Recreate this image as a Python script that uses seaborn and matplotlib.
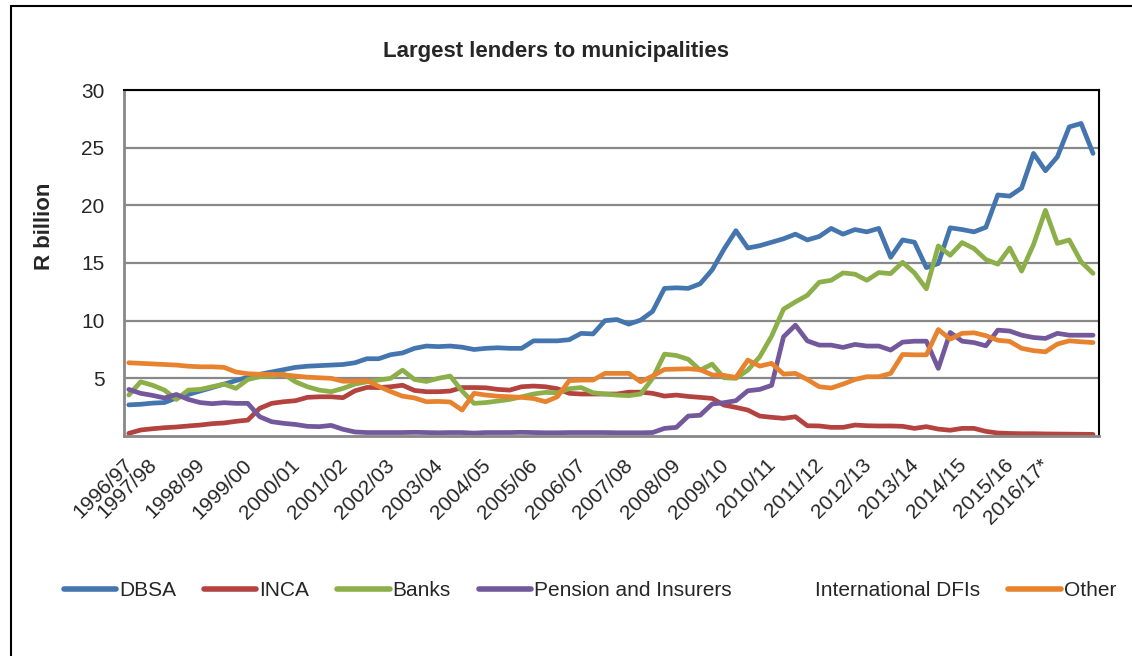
import numpy as np
import pandas as pd
import seaborn as sns
import matplotlib.pyplot as plt
import matplotlib.transforms as mtransforms
from matplotlib.lines import Line2D
from matplotlib.patches import Rectangle

# fiscal-year labels and the quarter index where each one sits
year_labels = ['1996/97', '1997/98', '1998/99', '1999/00', '2000/01', '2001/02', '2002/03',
               '2003/04', '2004/05', '2005/06', '2006/07', '2007/08', '2008/09', '2009/10',
               '2010/11', '2011/12', '2012/13', '2013/14', '2014/15', '2015/16', '2016/17*']
label_pos = [0, 2, 6, 10, 14, 18, 22, 26, 30, 34, 38, 42, 46, 50, 54, 58, 62, 66, 70, 74, 77]

# R billion, quarterly
dbsa = [2.7, 2.75, 2.85, 2.9, 3.3, 3.6, 3.9, 4.2, 4.5, 4.8, 5.1, 5.35, 5.55, 5.75, 5.95, 6.05, 6.1, 6.15, 6.2, 6.35, 6.7, 6.7, 7.05, 7.2, 7.6,
        7.8, 7.75, 7.8, 7.7, 7.5, 7.6, 7.65, 7.6, 7.6, 8.25, 8.25, 8.25, 8.35, 8.9, 8.85, 10.0, 10.1, 9.7, 10.05, 10.8, 12.8, 12.85, 12.8, 13.2,
        14.4, 16.2, 17.8, 16.3, 16.5, 16.8, 17.1, 17.5, 17.0, 17.3, 18.0, 17.5, 17.9, 17.7, 18.0, 15.5, 17.0, 16.8, 14.6, 14.95, 18.05, 17.9, 17.7,
        18.1, 20.9, 20.8, 21.5, 24.5, 23.0, 24.2, 26.8, 27.1, 24.5]
inca = [0.23, 0.52, 0.63, 0.72, 0.78, 0.87, 0.95, 1.07, 1.13, 1.27, 1.38, 2.4, 2.83, 2.97, 3.06, 3.35, 3.4, 3.4, 3.32, 3.92, 4.21, 4.2, 4.27, 4.4, 3.95,
        3.84, 3.84, 3.9, 4.2, 4.2, 4.18, 4.04, 3.98, 4.27, 4.33, 4.27, 4.1, 3.7, 3.64, 3.64, 3.64, 3.64, 3.8, 3.8, 3.7, 3.46, 3.55, 3.43, 3.35,
        3.26, 2.68, 2.48, 2.25, 1.73, 1.62, 1.53, 1.67, 0.89, 0.87, 0.75, 0.75, 0.95, 0.89, 0.87, 0.87, 0.84, 0.66, 0.81, 0.6, 0.5, 0.66, 0.66,
        0.4, 0.26, 0.22, 0.2, 0.2, 0.18, 0.17, 0.16, 0.15, 0.14]
banks = [3.55, 4.7, 4.4, 3.98, 3.17, 3.98, 4.04, 4.27, 4.5, 4.13, 4.9, 5.14, 5.2, 5.37, 4.7, 4.27, 3.98, 3.84, 4.13, 4.5, 4.7, 4.85, 5.0, 5.71, 4.9,
         4.73, 5.0, 5.2, 3.9, 2.83, 2.9, 3.03, 3.17, 3.4, 3.64, 3.78, 3.75, 4.1, 4.2, 3.75, 3.64, 3.55, 3.5, 3.64, 5.0, 7.1, 6.98, 6.65, 5.71,
         6.23, 5.05, 5.0, 5.71, 6.87, 8.66, 11.0, 11.63, 12.2, 13.33, 13.5, 14.14, 14.03, 13.5, 14.17, 14.08, 15.06, 14.14, 12.76, 16.48, 15.67, 16.77, 16.25,
         15.3, 14.9, 16.3, 14.3, 16.6, 19.57, 16.7, 17.0, 15.1, 14.1]
pension = [4.04, 3.7, 3.52, 3.3, 3.6, 3.17, 2.9, 2.8, 2.89, 2.83, 2.83, 1.67, 1.24, 1.1, 1.0, 0.84, 0.81, 0.92, 0.58, 0.35, 0.3, 0.3, 0.3, 0.3, 0.32,
           0.3, 0.28, 0.3, 0.3, 0.25, 0.3, 0.3, 0.3, 0.32, 0.3, 0.28, 0.28, 0.3, 0.3, 0.3, 0.3, 0.28, 0.28, 0.28, 0.3, 0.66, 0.75, 1.73, 1.8,
           2.77, 2.89, 3.06, 3.92, 4.04, 4.39, 8.6, 9.61, 8.25, 7.88, 7.88, 7.68, 7.94, 7.8, 7.8, 7.45, 8.14, 8.22, 8.22, 5.86, 8.98, 8.22, 8.1,
           7.82, 9.18, 9.1, 8.74, 8.54, 8.46, 8.9, 8.74, 8.74, 8.74]
other = [6.35, 6.3, 6.25, 6.2, 6.15, 6.05, 6.0, 6.0, 5.95, 5.55, 5.4, 5.35, 5.35, 5.3, 5.2, 5.1, 5.05, 5.0, 4.75, 4.75, 4.8, 4.3, 3.85, 3.45, 3.3,
         2.97, 3.0, 2.95, 2.25, 3.7, 3.55, 3.45, 3.4, 3.35, 3.25, 2.97, 3.4, 4.8, 4.85, 4.85, 5.43, 5.43, 5.43, 4.7, 5.2, 5.77, 5.8, 5.83, 5.75,
         5.3, 5.25, 5.08, 6.58, 6.06, 6.3, 5.37, 5.43, 4.9, 4.27, 4.16, 4.5, 4.9, 5.14, 5.14, 5.43, 7.07, 7.04, 7.04, 9.23, 8.4, 8.9, 8.95,
         8.7, 8.3, 8.2, 7.6, 7.4, 7.3, 7.97, 8.25, 8.17, 8.1]

series_names = ['DBSA', 'INCA', 'Banks', 'Pension and Insurers', 'International DFIs', 'Other']
colors = ['#4575AF', '#B4433F', '#8CAF49', '#73599B', '#4BACC6', '#E7832F']

n = len(dbsa)
frames = []
for name, vals in [('DBSA', dbsa), ('INCA', inca), ('Banks', banks),
                   ('Pension and Insurers', pension), ('Other', other)]:
    frames.append(pd.DataFrame({'quarter': np.arange(n), 'value': vals, 'lender': name}))
df = pd.concat(frames, ignore_index=True)
drawn = ['DBSA', 'INCA', 'Banks', 'Pension and Insurers', 'Other']
palette = dict(zip(series_names, colors))

sns.set_style('white')
plt.rcParams['font.family'] = ['Liberation Sans', 'DejaVu Sans']

fig = plt.figure(figsize=(11.32, 6.56), dpi=100)
ax = fig.add_axes([124 / 1132, 1 - 436 / 656, 975 / 1132, 346 / 656])

sns.lineplot(data=df, x='quarter', y='value', hue='lender', hue_order=drawn,
             palette=palette, linewidth=3.4, ax=ax, legend=False, sort=False)
for ln in ax.get_lines():
    ln.set_solid_joinstyle('round')
    ln.set_solid_capstyle('round')

ax.set_xlim(-0.4, n - 0.5)
ax.set_ylim(0, 30)
ax.set_yticks([5, 10, 15, 20, 25, 30])
ax.set_xticks(label_pos)
ax.set_xticklabels(year_labels, rotation=45, ha='right', va='top')
ax.tick_params(axis='y', length=0, pad=14, labelsize=15)
ax.tick_params(axis='x', length=0, pad=14, labelsize=15)
# Excel sets the rotated labels a little to the right of the category
shift = mtransforms.ScaledTranslation(8 / 100, 0, fig.dpi_scale_trans)
for lbl in ax.get_xticklabels():
    lbl.set_transform(lbl.get_transform() + shift)
ax.set_xlabel('')
ax.set_ylabel('')
ax.yaxis.grid(True, color='#888888', linewidth=1.6)
ax.set_axisbelow(True)
for side in ['left', 'bottom']:
    ax.spines[side].set_color('#888888')
    ax.spines[side].set_linewidth(2)
for side in ['top', 'right']:
    ax.spines[side].set_color('black')
    ax.spines[side].set_linewidth(1.5)

fig.text(556 / 1132, 1 - 52 / 656, 'Largest lenders to municipalities',
         ha='center', va='center', fontsize=16, fontweight='bold')
fig.text(45 / 1132, 1 - 226 / 656, 'R billion', rotation=90,
         ha='center', va='center', fontsize=16, fontweight='bold')

handles = []
for name in series_names:
    c = palette[name] if name in drawn else 'none'
    handles.append(Line2D([], [], color=c, linewidth=4, solid_capstyle='round'))
fig.legend(handles, series_names, loc='center', ncol=6, frameon=False,
           bbox_to_anchor=(590 / 1132, 1 - 591 / 656), fontsize=15,
           handlelength=2.5, handletextpad=0.15, columnspacing=1.35)

fig.add_artist(Rectangle((11 / 1132, -0.05), 1.2, 1 - 6 / 656 + 0.05,
                         transform=fig.transFigure, fill=False,
                         edgecolor='black', linewidth=1.5))

fig.savefig('out.png', dpi=100)
